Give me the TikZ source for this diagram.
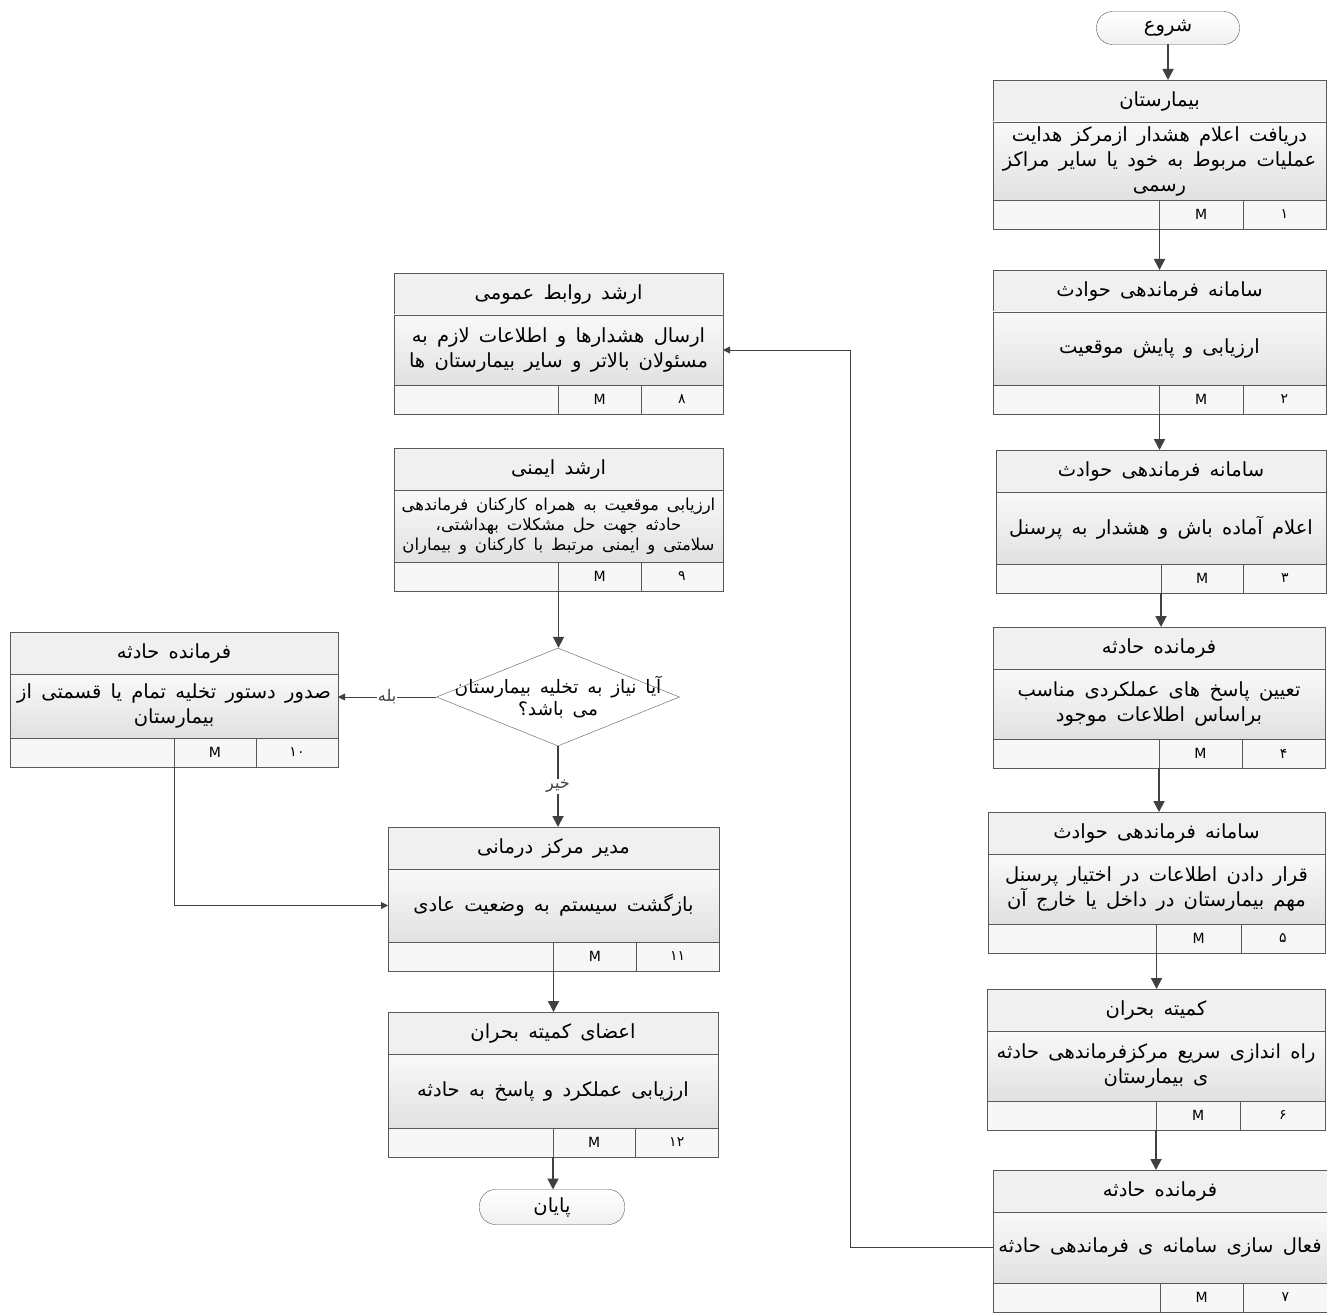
\documentclass[tikz,border=0pt]{standalone}
\usepackage{fontspec}
\usepackage{tikz}
\usetikzlibrary{arrows.meta,positioning,shapes.geometric}
\TeXXeTstate=1
\newfontfamily\persianfont[Script=Arabic, WordSpace=1.5]{DejaVu Sans}
\definecolor{boxink}{RGB}{89,89,89}
\definecolor{arrink}{RGB}{64,64,64}
\definecolor{bandgrey}{RGB}{240,240,240}
\definecolor{bodytop}{RGB}{249,249,249}
\definecolor{bodybot}{RGB}{225,225,225}
\definecolor{footgrey}{RGB}{247,247,247}
\newcommand{\rl}[1]{\beginR #1\endR}
% task box: title band, body, footer row (empty | M | number)
% [#1 body style] #2 name, #3 left, #4 top, #5 width, #6 body height, #7 title, #8 body, #9 number
\newcommand{\taskbox}[9][]{%
  \node[band, minimum width=#5, anchor=north west] (t#2) at (#3,#4) {#7};
  \node[cell, #1, minimum width=#5, minimum height=#6, below=0pt of t#2] (b#2) {#8};
  \node[foot, minimum width=#5/2, anchor=north west] (e#2) at (b#2.south west) {};
  \node[foot, minimum width=#5/4, right=0pt of e#2] (m#2) {M};
  \node[foot, minimum width=#5/4, right=0pt of m#2] (n#2) {#9};
}

\begin{document}
\begin{tikzpicture}[
  x=1pt, y=-1pt,
  font=\persianfont\fontsize{19.5}{25}\selectfont,
  band/.style={draw=boxink, fill=bandgrey, minimum height=42pt, inner sep=2pt, outer sep=0pt},
  cell/.style={draw=boxink, top color=bodytop, bottom color=bodybot, align=center,
               inner xsep=2pt, inner ysep=1pt, outer sep=0pt},
  foot/.style={draw=boxink, fill=footgrey, minimum height=29pt, inner sep=0pt, outer sep=0pt,
               font=\persianfont\fontsize{14}{16}\selectfont},
  term/.style={draw=boxink, rounded corners=16pt, top color=white, bottom color=bandgrey,
               minimum width=143pt, minimum height=33pt, outer sep=0pt},
  decide/.style={diamond, draw=boxink, fill=white, minimum width=243pt, minimum height=98pt, inner sep=0pt},
  ask/.style={align=center, inner sep=0pt, font=\persianfont\fontsize{18.5}{22}\selectfont},
  arr/.style={-{Triangle[length=11pt,width=11pt]}, line width=1.8pt, arrink},
  link/.style={-{Triangle[length=7pt,width=7pt]}, line width=0.9pt, arrink},
  tag/.style={fill=white, inner sep=1pt, font=\persianfont\fontsize{16}{18}\selectfont}
]
\useasboundingbox (0,0) rectangle (1327,1313);
\node[term] (start) at (1168,28) {\rl{شروع}};
% right column
\taskbox{1}{993}{80}{333}{78}{\rl{بیمارستان}}{\rl{دریافت اعلام هشدار ازمرکز هدایت}\\\rl{عملیات مربوط به خود یا سایر مراکز}\\\rl{رسمی}}{۱}
\taskbox{2}{993}{270}{333}{73}{\rl{سامانه فرماندهی حوادث}}{\rl{ارزیابی و پایش موقعیت}}{۲}
\taskbox{3}{996}{450}{330}{72}{\rl{سامانه فرماندهی حوادث}}{\rl{اعلام آماده باش و هشدار به پرسنل}}{۳}
\taskbox{4}{993}{627}{332}{70}{\rl{فرمانده حادثه}}{\rl{تعیین پاسخ های عملکردی مناسب}\\\rl{براساس اطلاعات موجود}}{۴}
\taskbox{5}{988}{812}{337}{70}{\rl{سامانه فرماندهی حوادث}}{\rl{قرار دادن اطلاعات در اختیار پرسنل}\\\rl{مهم بیمارستان در داخل یا خارج آن}}{۵}
\taskbox{6}{987}{989}{338}{70}{\rl{کمیته بحران}}{\rl{راه اندازی سریع مرکزفرماندهی حادثه}\\\rl{ی بیمارستان}}{۶}
\taskbox{7}{993}{1170}{334}{71}{\rl{فرمانده حادثه}}{\rl{فعال سازی سامانه ی فرماندهی حادثه}}{۷}
% middle and left columns
\taskbox{8}{394}{273}{329}{70}{\rl{ارشد روابط عمومی}}{\rl{ارسال هشدارها و اطلاعات لازم به}\\\rl{مسئولان بالاتر و سایر بیمارستان ها}}{۸}
\taskbox[font=\persianfont\fontsize{16.5}{20}\selectfont]{9}{394}{448}{329}{72}{\rl{ارشد ایمنی}}{\rl{ارزیابی موقعیت به همراه کارکنان فرماندهی}\\\rl{حادثه جهت حل مشکلات بهداشتی،}\\\rl{سلامتی و ایمنی مرتبط با کارکنان و بیماران}}{۹}
\node[decide] (dec) at (558,697) {};
\node[ask] (q) at (dec.center) {\rl{آیا نیاز به تخلیه بیمارستان}\\\rl{می باشد؟}};
\taskbox{10}{10}{632}{328}{64}{\rl{فرمانده حادثه}}{\rl{صدور دستور تخلیه تمام یا قسمتی از}\\\rl{بیمارستان}}{۱۰}
\taskbox{11}{388}{827}{331}{73}{\rl{مدیر مرکز درمانی}}{\rl{بازگشت سیستم به وضعیت عادی}}{۱۱}
\taskbox{12}{388}{1012}{330}{74}{\rl{اعضای کمیته بحران}}{\rl{ارزیابی عملکرد و پاسخ به حادثه}}{۱۲}
\node[term, minimum width=145pt, minimum height=35pt] (stop) at (552,1207) {\rl{پایان}};
% connectors
\draw[arr] (start) -- (start |- t1.north);
\foreach \i/\j in {1/2,2/3,3/4,4/5,5/6,6/7,11/12}
  \draw[arr] (m\i.south west) -- (m\i.south west |- t\j.north);
\draw[link] (b7.west) -- ++(-143,0) |- (b8.east);
\draw[arr] (m9.south west) -- (m9.south west |- dec.north);
\draw[link] (dec.west) -- (dec.west -| b10.east) node[tag, midway] {\rl{بله}};
\draw[arr] (dec.south) -- (dec.south |- t11.north) node[tag, midway] {\rl{خیر}};
\draw[link] (m10.south west) |- (b11.west);
\draw[arr] (m12.south west) -- (m12.south west |- stop.north);
\end{tikzpicture}
\end{document}
